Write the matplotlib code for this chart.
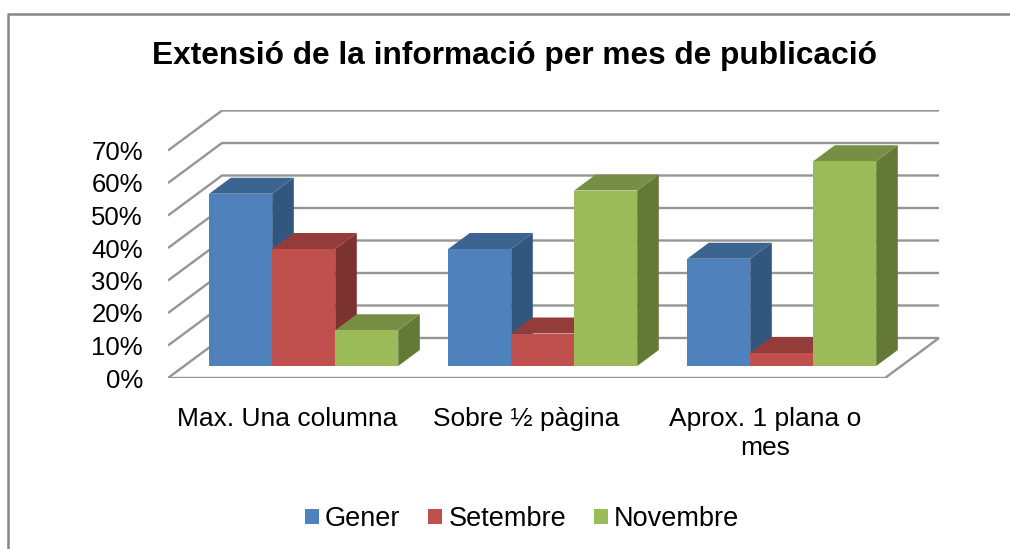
import matplotlib
matplotlib.use('Agg')
import matplotlib.pyplot as plt
from matplotlib.patches import Polygon, Patch
from matplotlib.lines import Line2D

plt.rcParams['font.family'] = ['Liberation Sans', 'DejaVu Sans']

# ---- data ----
categories = ['Max. Una columna', 'Sobre ½ pàgina', 'Aprox. 1 plana o\nmes']
series_names = ['Gener', 'Setembre', 'Novembre']
gener = [53, 36, 33]
setembre = [36, 10, 4]
novembre = [11, 54, 63]
y_ticks = [0, 10, 20, 30, 40, 50, 60, 70]
y_tick_labels = ['0%', '10%', '20%', '30%', '40%', '50%', '60%', '70%']
title = 'Extensió de la informació per mes de publicació'

front_colors = ['#4F81BD', '#C0504D', '#9BBB59']
top_colors = ['#3C6491', '#933C3A', '#778F44']
side_colors = ['#33567F', '#7C3231', '#657937']
grid_color = '#959595'

series = [gener, setembre, novembre]

W, H = 1010, 549
fig = plt.figure(figsize=(W / 100, H / 100), dpi=100)
fig.patch.set_facecolor('white')

px_per_cat = 239.0
px_per_pct = 3.25
ax = fig.add_axes([168 / W, (H - 378) / H, 772 / W, 268 / H])
ax.set_xlim(0, 772 / px_per_cat)
ax.set_ylim(0, 268 / px_per_pct)
ax.set_frame_on(False)

DX = 54 / px_per_cat      # full depth, x data units
DY = 40 / px_per_pct      # full depth, y data units
n_cat = len(categories)

# floor
floor = Polygon([(0, 0), (n_cat, 0), (n_cat + DX, DY), (DX, DY)], closed=True,
                facecolor='white', edgecolor=grid_color, lw=1.7, zorder=1)
ax.add_patch(floor)
# gridlines on left + back walls
for v in y_ticks[1:]:
    ax.plot([0, DX, n_cat + DX], [v, v + DY, v + DY], color=grid_color, lw=1.7,
            zorder=1, solid_capstyle='butt')

# bars
w = 63 / px_per_cat
d0 = 0.3   # bar front depth fraction
bd = 0.4   # bar depth fraction
for j in range(n_cat):
    for i, vals in enumerate(series):
        v = vals[j]
        x0 = j + 0.5 - 1.5 * w + i * w + d0 * DX
        y0 = d0 * DY
        ox, oy = bd * DX, bd * DY
        side = [(x0 + w, y0), (x0 + w + ox, y0 + oy), (x0 + w + ox, y0 + v + oy), (x0 + w, y0 + v)]
        top = [(x0, y0 + v), (x0 + w, y0 + v), (x0 + w + ox, y0 + v + oy), (x0 + ox, y0 + v + oy)]
        front = [(x0, y0), (x0 + w, y0), (x0 + w, y0 + v), (x0, y0 + v)]
        z = 2 + j * 3 + i
        ax.add_patch(Polygon(side, closed=True, facecolor=side_colors[i], edgecolor='none', zorder=z))
        ax.add_patch(Polygon(top, closed=True, facecolor=top_colors[i], edgecolor='none', zorder=z))
        ax.add_patch(Polygon(front, closed=True, facecolor=front_colors[i], edgecolor='none', zorder=z))

ax.set_yticks(y_ticks)
ax.set_yticklabels(y_tick_labels, fontsize=18.5)
ax.set_xticks([j + 0.5 for j in range(n_cat)])
ax.set_xticklabels(categories, fontsize=19, linespacing=1.25)
ax.tick_params(axis='both', length=0)
ax.tick_params(axis='y', pad=18)
ax.tick_params(axis='x', pad=21)

fig.text(515 / W, 1 - 64 / H, title, ha='center', va='baseline', fontsize=22.8,
         fontweight='bold')

handles = [Patch(facecolor=c, edgecolor='none') for c in front_colors]
fig.legend(handles, series_names, loc='center', bbox_to_anchor=(522 / W, 1 - 519 / H),
           ncol=3, frameon=False, fontsize=19.5, handlelength=0.52, handleheight=0.52,
           handletextpad=0.22, columnspacing=1.04, borderpad=0)

# chart border
fig.add_artist(Line2D([8 / W, 8 / W, 1], [0, 1 - 14 / H, 1 - 14 / H],
                      transform=fig.transFigure, color='#878787', lw=1.8))

fig.savefig('out.png', dpi=100)
